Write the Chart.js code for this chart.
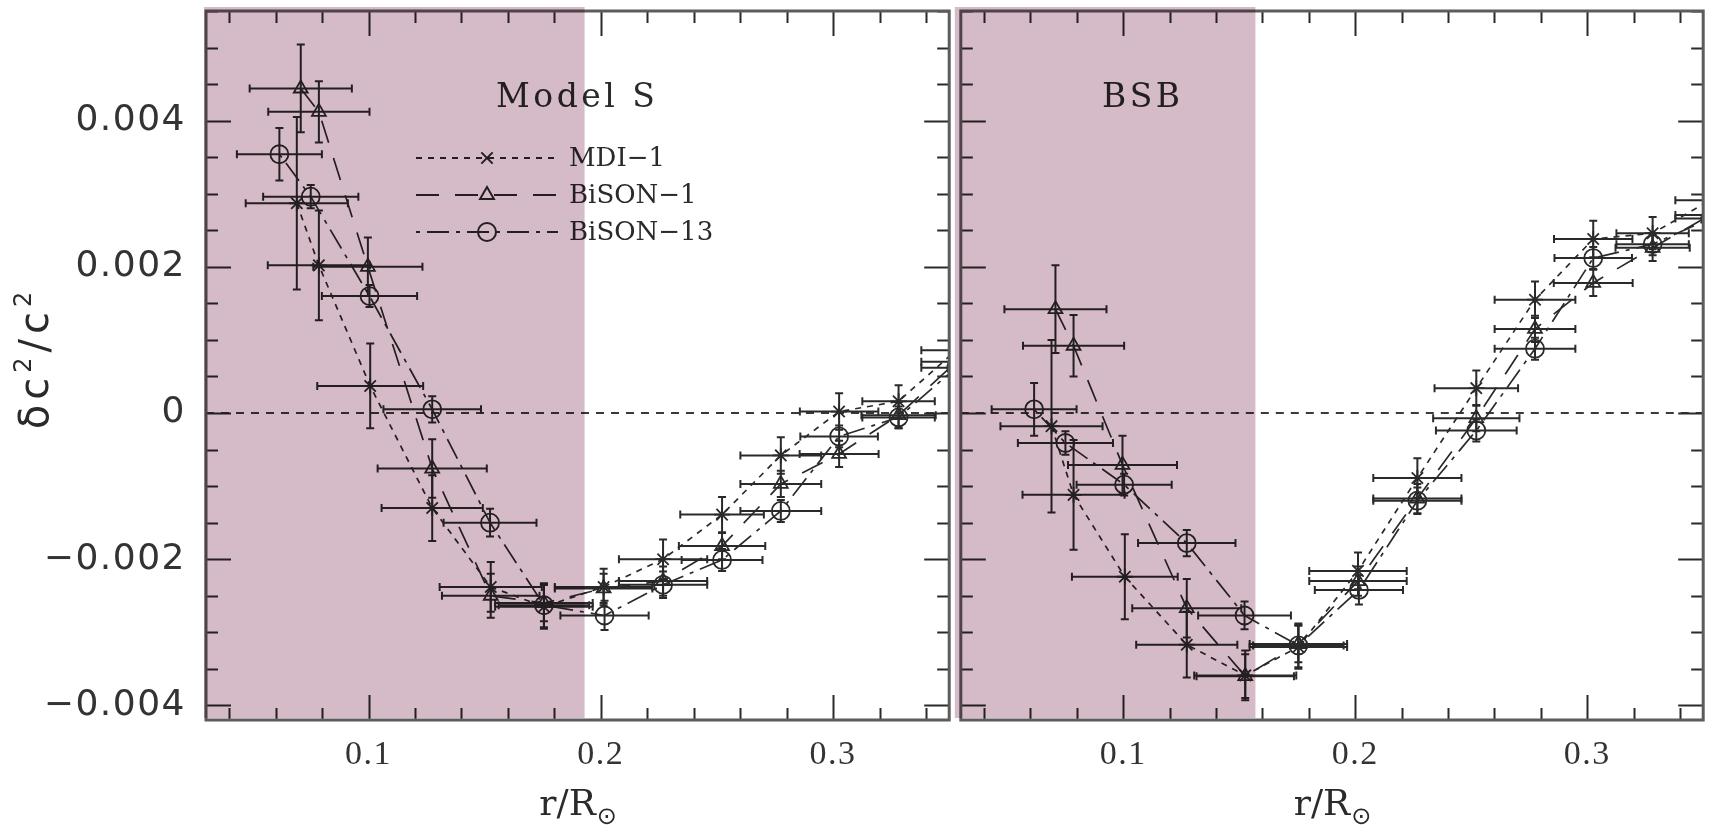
<!DOCTYPE html>
<html>
<head>
<meta charset="utf-8">
<script src="https://cdn.jsdelivr.net/npm/chart.js@4.4.1/dist/chart.umd.min.js"></script>
<style>
  html, body { margin: 0; background: #fff; }
  #wrap { position: relative; width: 1714px; height: 834px; overflow: hidden; }
  canvas { position: absolute; top: 0; }
  #left { left: 0; }
  #right { left: 950px; }
</style>
</head>
<body>
<div id="wrap">
  <canvas id="left" width="960" height="834"></canvas>
  <canvas id="right" width="764" height="834"></canvas>
</div>
<script>
// sound-speed differences, two reference models, three data sets
const seriesNames = ['MDI\u22121', 'BiSON\u22121', 'BiSON\u221213'];

// r/R positions (same in both panels)
const rMDI  = [0.0691, 0.0786, 0.1007, 0.1274, 0.1526, 0.1755, 0.2012, 0.2268, 0.2522, 0.2775, 0.3026, 0.3282, 0.353];
const rB1   = [0.0708, 0.0786, 0.0997, 0.1274, 0.1526, 0.1755, 0.2012, 0.2268, 0.2522, 0.2775, 0.3026, 0.3282, 0.353];
const rB13  = [0.0616, 0.0751, 0.1004, 0.1274, 0.1523, 0.1755, 0.2016, 0.2268, 0.2522, 0.2775, 0.3026, 0.3282, 0.353];

// horizontal (resolution) half widths
const drMDI = [0.022, 0.022, 0.0228, 0.0218, 0.022, 0.021, 0.021, 0.019, 0.018, 0.0174, 0.0169, 0.0156, 0.015];
const drB1  = [0.022, 0.0218, 0.0235, 0.0235, 0.021, 0.021, 0.021, 0.019, 0.0186, 0.0174, 0.017, 0.016, 0.015];
const drB13 = [0.0183, 0.0205, 0.0205, 0.021, 0.020, 0.0195, 0.019, 0.019, 0.0174, 0.0174, 0.0167, 0.0156, 0.015];

// vertical error bars
const dyMDI = [0.00118, 0.00075, 0.00058, 0.00045, 0.00034, 0.0003, 0.00025, 0.00027, 0.00024, 0.00025, 0.00025, 0.00022, 0.0002];
const dyB1  = [0.0006, 0.00042, 0.0004, 0.0004, 0.0003, 0.00025, 0.0002, 0.0002, 0.00018, 0.00018, 0.00018, 0.00018, 0.00018];
const dyB13 = [0.00036, 0.00016, 0.00015, 0.00018, 0.00019, 0.0003, 0.0002, 0.00018, 0.00015, 0.00015, 0.00015, 0.00015, 0.00015];

// delta c^2 / c^2 relative to Model S
const modelS_MDI = [0.00287, 0.00202, 0.00037, -0.0013, -0.00238, -0.00265, -0.00238, -0.0020, -0.00139, -0.00058, 0.00002, 0.00016, 0.00086];
const modelS_B1  = [0.00444, 0.00412, 0.0020, -0.00076, -0.0025, -0.0026, -0.0024, -0.0023, -0.00182, -0.00097, -0.00056, -0.00003, 0.0007];
const modelS_B13 = [0.00354, 0.00296, 0.0016, 0.00005, -0.0015, -0.00263, -0.00277, -0.00235, -0.00201, -0.00134, -0.00032, -0.00006, 0.00062];

// delta c^2 / c^2 relative to BSB
const bsb_MDI = [-0.00018, -0.00112, -0.00224, -0.00317, -0.00359, -0.0032, -0.00216, -0.00089, 0.00034, 0.00155, 0.00238, 0.00246, 0.00291];
const bsb_B1  = [0.00142, 0.00092, -0.00071, -0.00267, -0.0036, -0.00316, -0.0023, -0.00117, -0.00007, 0.00115, 0.00178, 0.00226, 0.00271];
const bsb_B13 = [0.00005, -0.00041, -0.00098, -0.00178, -0.00277, -0.00318, -0.00242, -0.0012, -0.00024, 0.00088, 0.00212, 0.00231, 0.00266];

// axes
const xMin = 0.03, xMax = 0.35, yMin = -0.0042, yMax = 0.0055;
const xMajor = [0.1, 0.2, 0.3];
const xLabels = ['0.1', '0.2', '0.3'];
const yMajor = [-0.004, -0.002, 0, 0.002, 0.004];
const yLabels = ['\u22120.004', '\u22120.002', '0', '0.002', '0.004'];
const xMinorStep = 0.02, yMinorStep = 0.0005;

const ink = '#2a2a2a';
const shade = '#d5bac7';

const series = [
  {r: rMDI, dr: drMDI, dy: dyMDI, dash: [6, 6],          marker: 'star',     legendMarker: 'crossRot', size: 8},
  {r: rB1,  dr: drB1,  dy: dyB1,  dash: [23, 16],        marker: 'triangle', legendMarker: 'triangle', size: 8},
  {r: rB13, dr: drB13, dy: dyB13, dash: [4, 7, 22, 7],   marker: 'circle',   legendMarker: 'circle',   size: 9},
];

function isMajor(v, step) {
  const q = v / step;
  return Math.abs(q - Math.round(q)) < 1e-6;
}

// wider tick lettering, like the original plot font
const spacing = {
  id: 'spacing',
  beforeDraw(chart) { chart.ctx.letterSpacing = '1.5px'; }
};

const zeroLine = {
  id: 'zeroLine',
  beforeDatasetsDraw(chart) {
    const {ctx, chartArea: a, scales: {y}} = chart;
    const py = y.getPixelForValue(0);
    ctx.save();
    ctx.strokeStyle = '#3a3a3a';
    ctx.lineWidth = 2;
    ctx.setLineDash([8, 7]);
    ctx.beginPath();
    ctx.moveTo(a.left, py);
    ctx.lineTo(a.right, py);
    ctx.stroke();
    ctx.restore();
  }
};

const errorBars = {
  id: 'errorBars',
  beforeDatasetsDraw(chart) {
    const {ctx, chartArea: a, scales: {x, y}} = chart;
    ctx.save();
    ctx.beginPath();
    ctx.rect(a.left, a.top, a.width, a.height);
    ctx.clip();
    ctx.strokeStyle = ink;
    ctx.lineWidth = 2;
    ctx.setLineDash([]);
    chart.data.datasets.forEach(ds => {
      ds.data.forEach((p, i) => {
        const px = x.getPixelForValue(p.x), py = y.getPixelForValue(p.y);
        const x0 = x.getPixelForValue(p.x - ds.xerr[i]), x1 = x.getPixelForValue(p.x + ds.xerr[i]);
        const y0 = y.getPixelForValue(p.y - ds.yerr[i]), y1 = y.getPixelForValue(p.y + ds.yerr[i]);
        const c = 4;
        ctx.beginPath();
        ctx.moveTo(x0, py); ctx.lineTo(x1, py);
        ctx.moveTo(x0, py - c); ctx.lineTo(x0, py + c);
        ctx.moveTo(x1, py - c); ctx.lineTo(x1, py + c);
        ctx.moveTo(px, y0); ctx.lineTo(px, y1);
        ctx.moveTo(px - c, y0); ctx.lineTo(px + c, y0);
        ctx.moveTo(px - c, y1); ctx.lineTo(px + c, y1);
        ctx.stroke();
      });
    });
    ctx.restore();
  }
};

const frame = {
  id: 'frame',
  afterDatasetsDraw(chart) {
    const {ctx, chartArea: a, scales: {x, y}} = chart;
    ctx.save();
    ctx.strokeStyle = ink;
    ctx.lineWidth = 2;
    ctx.beginPath();
    for (let i = 0; ; i++) {
      const v = 0.04 + i * xMinorStep;
      if (v > xMax) break;
      const len = isMajor(v, 0.1) ? 25 : 12;
      const px = Math.round(x.getPixelForValue(v)) + 0.5;
      ctx.moveTo(px, a.bottom); ctx.lineTo(px, a.bottom - len);
      ctx.moveTo(px, a.top); ctx.lineTo(px, a.top + len);
    }
    for (let i = 0; ; i++) {
      const v = -0.004 + i * yMinorStep;
      if (v > yMax) break;
      const len = isMajor(v, 0.002) ? 25 : 12;
      const py = Math.round(y.getPixelForValue(v)) + 0.5;
      ctx.moveTo(a.left, py); ctx.lineTo(a.left + len, py);
      ctx.moveTo(a.right, py); ctx.lineTo(a.right - len, py);
    }
    ctx.stroke();
    ctx.strokeStyle = '#5c5c5c';
    ctx.lineWidth = 3;
    ctx.strokeRect(a.left, a.top, a.width, a.height);
    ctx.restore();
  }
};

function xTitle(ctx, cx, cy) {
  ctx.save();
  ctx.fillStyle = ink;
  ctx.letterSpacing = '0px';
  ctx.textBaseline = 'alphabetic';
  ctx.textAlign = 'left';
  ctx.font = '36px "DejaVu Serif"';
  const main = 'r/R';
  const w1 = ctx.measureText(main).width;
  ctx.font = '24px "DejaVu Sans"';
  const w2 = ctx.measureText('\u2299').width;
  const x0 = cx - (w1 + w2) / 2;
  ctx.font = '36px "DejaVu Serif"';
  ctx.fillText(main, x0, cy);
  ctx.font = '24px "DejaVu Sans"';
  ctx.fillText('\u2299', x0 + w1 + 1, cy + 9);
  ctx.restore();
}

function yTitle(ctx, cx, cy) {
  // delta c^2 / c^2, written bottom to top
  const parts = [['\u03b4c', 0], ['2', 1], ['/c', 0], ['2', 1]];
  ctx.save();
  ctx.translate(cx, cy);
  ctx.rotate(-Math.PI / 2);
  ctx.fillStyle = ink;
  ctx.textBaseline = 'alphabetic';
  ctx.textAlign = 'left';
  ctx.letterSpacing = '5px';
  const fontFor = sup => sup ? '24px "DejaVu Sans"' : '40px "DejaVu Sans"';
  let total = 0;
  parts.forEach(([t, sup]) => { ctx.font = fontFor(sup); total += ctx.measureText(t).width; });
  let x = -total / 2;
  parts.forEach(([t, sup]) => {
    ctx.font = fontFor(sup);
    ctx.fillText(t, x, sup ? -3 : 14);
    x += ctx.measureText(t).width;
  });
  ctx.restore();
}

function makePanel(id, title, titleX, shadeTo, shadePad, values, withY) {
  const overlay = {
    id: 'overlay',
    afterDraw(chart) {
      const {ctx, chartArea: a, scales: {x}} = chart;
      ctx.save();
      ctx.fillStyle = ink;
      ctx.font = '33px "DejaVu Serif"';
      ctx.letterSpacing = '3.5px';
      ctx.textAlign = 'left';
      ctx.textBaseline = 'alphabetic';
      ctx.fillText(title, titleX, 107);
      ctx.letterSpacing = '0px';
      if (withY) {
        // legend
        const rows = [158, 195, 232];
        series.forEach((s, k) => {
          ctx.save();
          ctx.strokeStyle = ink;
          ctx.lineWidth = 1.8;
          ctx.setLineDash(s.dash);
          ctx.beginPath();
          ctx.moveTo(416, rows[k]);
          ctx.lineTo(558, rows[k]);
          ctx.stroke();
          ctx.setLineDash([]);
          ctx.fillStyle = 'rgba(0,0,0,0)';
          ctx.lineWidth = 2;
          Chart.helpers.drawPoint(ctx, {pointStyle: s.legendMarker, radius: s.size, borderWidth: 2, rotation: 0}, 487, rows[k]);
          ctx.restore();
          ctx.font = '26px "DejaVu Serif"';
          ctx.textBaseline = 'middle';
          ctx.fillText(seriesNames[k], 569, rows[k] + 1);
        });
        yTitle(ctx, 34, 358);
      }
      xTitle(ctx, (a.left + a.right) / 2, 815);
      // shaded core region, multiplied over everything
      ctx.globalCompositeOperation = 'multiply';
      ctx.fillStyle = shade;
      const xe = x.getPixelForValue(shadeTo);
      ctx.fillRect(a.left - shadePad, a.top - 4, xe - a.left + shadePad, a.bottom - a.top + 2);
      ctx.restore();
    }
  };

  const datasets = series.map((s, k) => ({
    label: seriesNames[k],
    data: s.r.map((r, i) => ({x: r, y: values[k][i]})),
    xerr: s.dr,
    yerr: s.dy,
    showLine: true,
    borderColor: ink,
    borderWidth: 1.7,
    borderDash: s.dash,
    pointStyle: s.marker,
    pointRadius: s.size,
    pointBorderWidth: 1.8,
    pointBorderColor: ink,
    pointBackgroundColor: 'rgba(0,0,0,0)',
    clip: 0
  }));

  return new Chart(document.getElementById(id), {
    type: 'scatter',
    data: {datasets},
    plugins: [spacing, zeroLine, errorBars, frame, overlay],
    options: {
      responsive: false,
      animation: false,
      devicePixelRatio: 1,
      layout: {padding: {top: 11, right: withY ? 4 : 9, left: 0, bottom: 0}},
      plugins: {legend: {display: false}, tooltip: {enabled: false}},
      scales: {
        x: {
          type: 'linear', min: xMin, max: xMax,
          afterBuildTicks: s => { s.ticks = xMajor.map(v => ({value: v})); },
          afterFit: s => { s.height = 114; s.paddingLeft = 0; s.paddingRight = 0; },
          grid: {display: false, drawTicks: false},
          border: {display: false},
          ticks: {
            autoSkip: false, maxRotation: 0, minRotation: 0, padding: 15,
            color: '#333', font: {family: 'Liberation Serif', size: 34},
            callback: (v, i) => xLabels[i]
          }
        },
        y: {
          type: 'linear', min: yMin, max: yMax,
          afterBuildTicks: s => { s.ticks = yMajor.map(v => ({value: v})); },
          afterFit: s => { s.width = withY ? 206 : 6; s.paddingTop = 0; s.paddingBottom = 0; },
          grid: {display: false, drawTicks: false},
          border: {display: false},
          ticks: {
            display: withY, autoSkip: false, padding: 20,
            color: '#333', font: {family: 'DejaVu Sans', size: 36},
            callback: (v, i) => yLabels[i]
          }
        }
      }
    }
  });
}

makePanel('left', 'Model S', 496, 0.193, 2, [modelS_MDI, modelS_B1, modelS_B13], true);
makePanel('right', 'BSB', 152, 0.157, 6, [bsb_MDI, bsb_B1, bsb_B13], false);
</script>
</body>
</html>
